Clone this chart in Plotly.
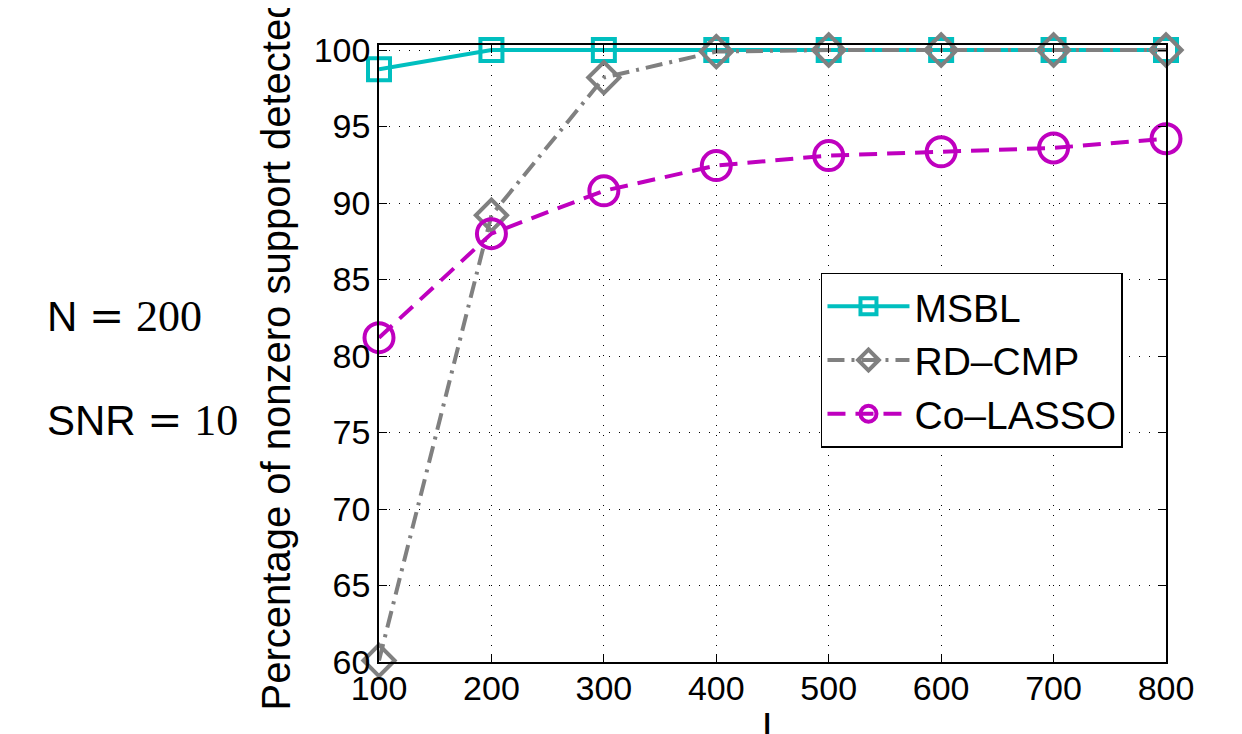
import plotly.graph_objects as go

L_vals = [100, 200, 300, 400, 500, 600, 700, 800]
msbl = [98.75, 100, 100, 100, 100, 100, 100, 100]
rdcmp = [60.1, 89.2, 98.2, 99.9, 100, 100, 100, 100]
colasso = [81.2, 88.0, 90.8, 92.45, 93.1, 93.35, 93.6, 94.2]

x_ticks = [100, 200, 300, 400, 500, 600, 700, 800]
y_ticks = [60, 65, 70, 75, 80, 85, 90, 95, 100]

FONT = "Liberation Sans, Arial, Helvetica, sans-serif"
SERIF_EQ = "'DejaVu Serif', serif"
SERIF_NUM = "'Liberation Serif', serif"


def latex_like(name, value):
    return (name + " <span style=\"font-family:" + SERIF_EQ + "\">=</span> "
            "<span style=\"font-family:" + SERIF_NUM + ";font-size:44px\">" + value + "</span>")


fig = go.Figure()
fig.add_trace(go.Scatter(
    x=L_vals, y=msbl, name="MSBL", mode="lines+markers",
    line=dict(color="#00bfbf", width=4, dash="solid"),
    marker=dict(symbol="square-open", size=22, color="#00bfbf", line=dict(width=4, color="#00bfbf")),
    cliponaxis=False))
fig.add_trace(go.Scatter(
    x=L_vals, y=rdcmp, name="RD\u2013CMP", mode="lines+markers",
    line=dict(color="#808080", width=4, dash="17px,7px,3px,7px"),
    marker=dict(symbol="diamond-open", size=24, color="#808080", line=dict(width=4, color="#808080")),
    cliponaxis=False))
fig.add_trace(go.Scatter(
    x=L_vals, y=colasso, name="Co\u2013LASSO", mode="lines+markers",
    line=dict(color="#bf00bf", width=4, dash="18px,10px"),
    marker=dict(symbol="circle-open", size=29, color="#bf00bf", line=dict(width=4, color="#bf00bf")),
    cliponaxis=False))

axis_common = dict(
    showline=True, linecolor="black", linewidth=1.5, mirror="ticks",
    ticks="inside", ticklen=8, tickwidth=1, tickcolor="black",
    showgrid=True, gridcolor="black", gridwidth=1, griddash="1px,9px",
    zeroline=False, tickfont=dict(family=FONT, size=34, color="black"),
)
fig.update_xaxes(range=[100, 800], tickvals=x_ticks, ticktext=[str(v) for v in x_ticks],
                 ticklabelstandoff=-5, **axis_common)
fig.update_yaxes(range=[60, 100.33], tickvals=y_ticks, ticktext=[str(v) for v in y_ticks], **axis_common)

fig.update_layout(
    width=1242, height=734,
    margin=dict(l=371, r=84, t=37, b=80),
    paper_bgcolor="white", plot_bgcolor="white",
    showlegend=True,
    legend=dict(x=0.5616, y=0.6305, xanchor="left", yanchor="top",
                bgcolor="white", bordercolor="black", borderwidth=1.5,
                font=dict(family=FONT, size=39, color="black"),
                itemwidth=82, tracegroupgap=0),
    font=dict(family=FONT, color="black"),
    annotations=[
        dict(text="Percentage of nonzero support detected", xref="paper", yref="paper",
             x=-0.131, y=0.5, xanchor="center", yanchor="middle", textangle=-90,
             showarrow=False, font=dict(family=FONT, size=40, color="black")),
        dict(text="L", xref="paper", yref="paper", x=0.5, y=-0.066, xanchor="center", yanchor="top",
             showarrow=False, font=dict(family=FONT, size=40, color="black")),
        dict(text=latex_like("N", "200"),
             xref="paper", yref="paper", x=-0.425, y=0.56, xanchor="left", yanchor="middle",
             showarrow=False, font=dict(family=FONT, size=42, color="black")),
        dict(text=latex_like("SNR", "10"),
             xref="paper", yref="paper", x=-0.425, y=0.392, xanchor="left", yanchor="middle",
             showarrow=False, font=dict(family=FONT, size=42, color="black")),
    ],
)

fig.write_html("out.html")
